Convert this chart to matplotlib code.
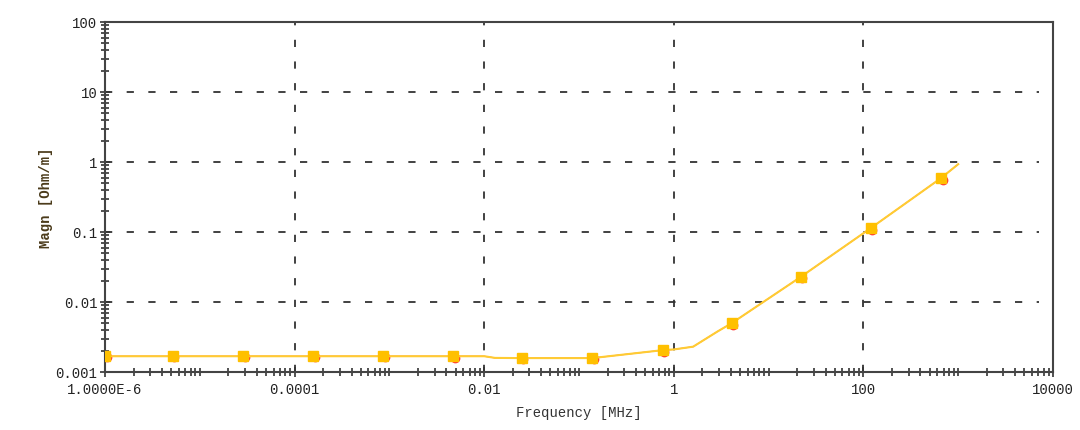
import numpy as np
import matplotlib
matplotlib.use("Agg")
import matplotlib.pyplot as plt
import matplotlib.transforms as mtransforms
from matplotlib.ticker import FixedLocator, NullFormatter

plt.rcParams['font.family'] = ['Liberation Mono', 'DejaVu Sans Mono']

# curve (MHz, Ohm/m)
line_freq = [1e-6, 1e-3, 0.01, 0.013, 0.025, 0.138, 0.76, 1.0, 1.6, 2.9, 4.1, 21.8, 120, 660, 1000]
line_magn = [0.00168, 0.00168, 0.00168, 0.00159, 0.00158, 0.00158, 0.00205, 0.0021, 0.0023,
             0.0038, 0.0050, 0.0228, 0.114, 0.59, 0.93]

# sample markers
marker_freq = [1e-6, 5.2e-6, 2.86e-5, 1.57e-4, 8.6e-4, 4.7e-3, 0.025, 0.138, 0.76, 4.1, 21.8, 120, 660]
marker_magn = [0.00172, 0.00172, 0.00172, 0.00172, 0.00170, 0.00169, 0.00159, 0.00159, 0.00205,
               0.0050, 0.0228, 0.114, 0.59]

xticks = [1e-6, 1e-4, 1e-2, 1, 100, 1e4]
xticklabels = ["1.0000E-6", "0.0001", "0.01", "1", "100", "10000"]
yticks = [1e-3, 1e-2, 1e-1, 1, 10, 100]
yticklabels = ["0.001", "0.01", "0.1", "1", "10", "100"]

fig = plt.figure(figsize=(10.8, 4.31), dpi=100)
ax = fig.add_axes([105 / 1080, 1 - 373 / 431, (1053 - 105) / 1080, (373 - 23) / 431])

ax.set_xscale('log')
ax.set_yscale('log')
ax.set_xlim(1e-6, 1e4)
ax.set_ylim(1e-3, 100)

# red series sits under the yellow one, markers peek out a little
shift = mtransforms.offset_copy(ax.transData, fig=fig, x=1.5, y=-1.5, units='dots')
ax.plot(line_freq, line_magn, color='#ff3333', lw=0.8, zorder=3)
ax.plot(marker_freq, marker_magn, 'o', color='#ff3333', ms=6, transform=shift, zorder=3)
ax.plot(line_freq, line_magn, color='#ffcc33', lw=1.5, zorder=4)
ax.plot(marker_freq, marker_magn, 's', color='#ffc000', ms=7.5, mec='#ffc000', zorder=5)

# grid
dash = (0, (4.0, 8.0))
for x in xticks[1:-1]:
    ax.axvline(x, color='#333333', lw=1.3, ls=dash, zorder=1)
for y in yticks[1:-1]:
    ax.axhline(y, xmin=0.0, xmax=0.985, color='#333333', lw=1.3, ls=dash, zorder=1)

ax.xaxis.set_major_locator(FixedLocator(xticks))
ax.set_xticklabels(xticklabels)
ax.yaxis.set_major_locator(FixedLocator(yticks))
ax.set_yticklabels(yticklabels)

xminor = [k * 10.0 ** n for n in range(-6, 4) for k in range(1, 10)]
xminor = [v for v in xminor if v not in xticks]
yminor = [k * 10.0 ** n for n in range(-3, 2) for k in range(2, 10)]
ax.xaxis.set_minor_locator(FixedLocator(xminor))
ax.yaxis.set_minor_locator(FixedLocator(yminor))
ax.xaxis.set_minor_formatter(NullFormatter())
ax.yaxis.set_minor_formatter(NullFormatter())

ax.tick_params(which='both', direction='inout', color='#333333', width=1.2,
               labelsize=10, labelcolor='#222222')
ax.tick_params(which='major', length=7)
ax.tick_params(which='minor', length=6)
ax.tick_params(axis='x', which='major', pad=4)
ax.tick_params(axis='y', which='major', pad=2)
ax.tick_params(axis='x', which='both', top=False)
ax.tick_params(axis='y', which='both', right=False)

for s in ax.spines.values():
    s.set_color('#444444')
    s.set_linewidth(1.5)

ax.set_xlabel("Frequency [MHz]", fontsize=10, color='#333333', labelpad=6)
ax.set_ylabel("Magn [Ohm/m]", fontsize=10, fontweight='bold', color='#4a3a1a', labelpad=2)

fig.savefig("out.png", dpi=100)
